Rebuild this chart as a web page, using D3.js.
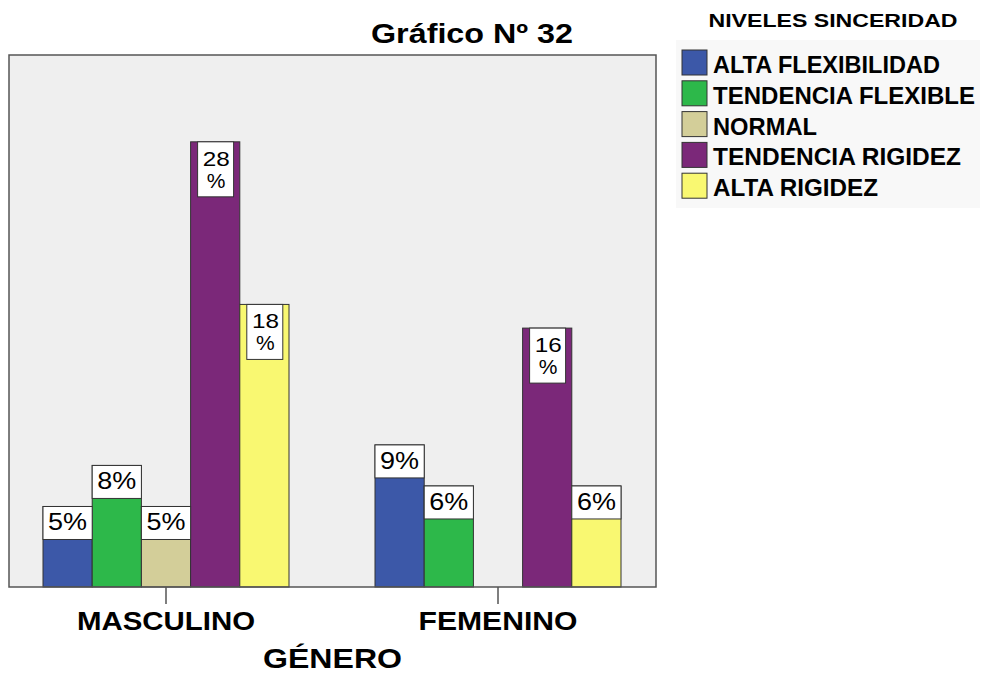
<!doctype html>
<html>
  <head>
    <meta charset="utf-8">
    <title>Gráfico Nº 32</title>
    <script type="text/javascript" src="https://d3js.org/d3.v7.min.js"></script>
    <style>
      body { margin: 0; background: #fff; }
      text { font-family: "Liberation Sans", Arial, sans-serif; font-weight: bold; fill: #000; }
    </style>
  </head>
  <body>
    <script>
      const categories = ['MASCULINO', 'FEMENINO'];
      const levels = ['ALTA FLEXIBILIDAD', 'TENDENCIA FLEXIBLE', 'NORMAL', 'TENDENCIA RIGIDEZ', 'ALTA RIGIDEZ'];
      const masculino = [5.1, 7.7, 5.1, 28.2, 17.9];
      const femenino = [9.0, 6.4, 0, 16.4, 6.4];
      const colors = ['#3c58a8', '#2db84a', '#d3ce99', '#7b2879', '#f9f871'];

      const width = 981, height = 675;
      const plot = { left: 9, right: 656, top: 55, bottom: 587 };

      const svg = d3.select('body').append('svg')
          .attr('width', width)
          .attr('height', height);

      const rows = [masculino, femenino];
      const data = [];
      categories.forEach((c, i) => {
        levels.forEach((l, j) => data.push({ cat: c, level: l, value: rows[i][j], color: colors[j] }));
      });

      const x0 = d3.scaleBand().domain(categories).range([0, 664]);
      const groupW = 246;
      const x1 = d3.scaleBand().domain(levels).range([0, groupW]);
      const y = d3.scaleLinear().domain([0, 33.7]).range([plot.bottom, plot.top]);

      // fondo del area de grafico
      svg.append('rect')
          .attr('x', plot.left).attr('y', plot.top)
          .attr('width', plot.right - plot.left).attr('height', plot.bottom - plot.top)
          .attr('fill', '#efefef');

      const barX = d => x0(d.cat) + (x0.bandwidth() - groupW) / 2 + x1(d.level);

      const bars = data.filter(d => d.value > 0);
      svg.selectAll('rect.bar')
        .data(bars)
        .enter().append('rect')
          .attr('class', 'bar')
          .attr('x', barX)
          .attr('y', d => y(d.value))
          .attr('width', x1.bandwidth())
          .attr('height', d => y(0) - y(d.value))
          .attr('fill', d => d.color)
          .attr('stroke', '#333')
          .attr('stroke-width', 1);

      // etiquetas de valor (caja blanca en la parte alta de la barra)
      const labels = svg.selectAll('g.lbl')
        .data(bars)
        .enter().append('g')
          .attr('class', 'lbl');

      labels.each(function(d) {
        const g = d3.select(this);
        const txt = Math.round(d.value);
        const bx = barX(d), bw = x1.bandwidth(), top = y(d.value);
        if (txt >= 10) {
          g.append('rect')
              .attr('x', bx + 7).attr('y', top)
              .attr('width', 36).attr('height', 55)
              .attr('fill', '#fff').attr('stroke', '#333');
          g.append('text')
              .attr('x', bx + bw / 2 + 1).attr('y', top + 24)
              .attr('text-anchor', 'middle').attr('font-size', 21)
              .attr('textLength', 27).attr('lengthAdjust', 'spacingAndGlyphs')
              .style('font-weight', 'normal')
              .text(txt);
          g.append('text')
              .attr('x', bx + bw / 2 + 1).attr('y', top + 46)
              .attr('text-anchor', 'middle').attr('font-size', 21)
              .style('font-weight', 'normal')
              .text('%');
        } else {
          g.append('rect')
              .attr('x', bx).attr('y', top)
              .attr('width', bw).attr('height', 33)
              .attr('fill', '#fff').attr('stroke', '#333');
          g.append('text')
              .attr('x', bx + bw / 2).attr('y', top + 24)
              .attr('text-anchor', 'middle').attr('font-size', 24)
              .attr('textLength', 39).attr('lengthAdjust', 'spacingAndGlyphs')
              .style('font-weight', 'normal')
              .text(txt + '%');
        }
      });

      // marco
      svg.append('rect')
          .attr('x', plot.left).attr('y', plot.top)
          .attr('width', plot.right - plot.left).attr('height', plot.bottom - plot.top)
          .attr('fill', 'none').attr('stroke', '#555').attr('stroke-width', 1.5);

      // eje x
      svg.selectAll('line.tick')
        .data(categories)
        .enter().append('line')
          .attr('x1', d => x0(d) + x0.bandwidth() / 2)
          .attr('x2', d => x0(d) + x0.bandwidth() / 2)
          .attr('y1', plot.bottom).attr('y2', plot.bottom + 17)
          .attr('stroke', '#555').attr('stroke-width', 1.5);

      const catW = { MASCULINO: 178, FEMENINO: 159 };
      svg.selectAll('text.cat')
        .data(categories)
        .enter().append('text')
          .attr('x', d => x0(d) + x0.bandwidth() / 2)
          .attr('y', 630)
          .attr('text-anchor', 'middle')
          .attr('font-size', 26)
          .attr('textLength', d => catW[d]).attr('lengthAdjust', 'spacingAndGlyphs')
          .text(d => d);

      svg.append('text')
          .attr('x', (plot.left + plot.right) / 2).attr('y', 668)
          .attr('text-anchor', 'middle').attr('font-size', 28)
          .attr('textLength', 139).attr('lengthAdjust', 'spacingAndGlyphs')
          .text('GÉNERO');

      svg.append('text')
          .attr('x', 472).attr('y', 43)
          .attr('text-anchor', 'middle').attr('font-size', 28)
          .attr('textLength', 202).attr('lengthAdjust', 'spacingAndGlyphs')
          .text('Gráfico Nº 32');

      // leyenda
      svg.append('rect')
          .attr('x', 676).attr('y', 40).attr('width', 304).attr('height', 168)
          .attr('fill', '#f8f8f8');
      svg.append('text')
          .attr('x', 833).attr('y', 27)
          .attr('text-anchor', 'middle').attr('font-size', 18)
          .attr('textLength', 249).attr('lengthAdjust', 'spacingAndGlyphs')
          .text('NIVELES SINCERIDAD');

      const legW = [227, 262, 104, 248, 165];
      const leg = svg.selectAll('g.leg')
        .data(levels)
        .enter().append('g')
          .attr('transform', (d, i) => `translate(682, ${50 + i * 30.8})`);
      leg.append('rect')
          .attr('width', 25).attr('height', 25)
          .attr('fill', (d, i) => colors[i])
          .attr('stroke', '#333');
      leg.append('text')
          .attr('x', 31).attr('y', 23)
          .attr('font-size', 23)
          .attr('textLength', (d, i) => legW[i]).attr('lengthAdjust', 'spacingAndGlyphs')
          .text(d => d);
    </script>
  </body>
</html>
